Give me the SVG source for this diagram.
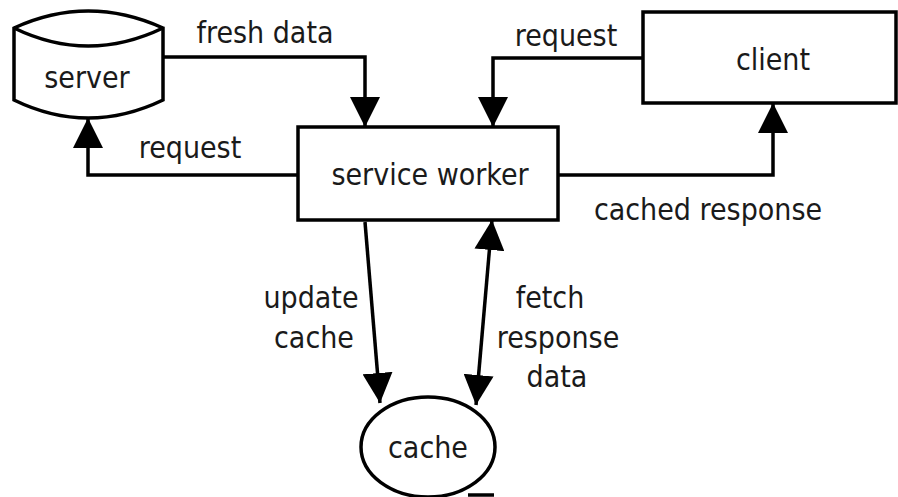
<svg xmlns="http://www.w3.org/2000/svg" width="898" height="497" viewBox="0 0 898 497">
<style>
.s{fill:none;stroke:#000;stroke-width:3.5}
.n{fill:#fff;stroke:#000;stroke-width:3.5}
text{font-family:"DejaVu Sans Condensed","DejaVu Sans",Verdana,sans-serif;font-stretch:condensed;font-size:30px;fill:#1a1a1a}
</style>
<defs>
<marker id="h" viewBox="0 0 30 30" refX="30" refY="15" markerWidth="30" markerHeight="30" markerUnits="userSpaceOnUse" orient="auto-start-reverse">
<path d="M0,0 L30,15 L0,30 z" fill="#000"/>
</marker>
</defs>
<g id="connectors">
<path class="s" d="M163,57 H365 V127" marker-end="url(#h)"/>
<path class="s" d="M643,58 H493 V127" marker-end="url(#h)"/>
<path class="s" d="M298,175 H88 V118" marker-end="url(#h)"/>
<path class="s" d="M558,175 H773 V103" marker-end="url(#h)"/>
<path class="s" d="M365,222 L380,403" marker-end="url(#h)"/>
<path class="s" d="M492,220 L476,405" marker-start="url(#h)" marker-end="url(#h)"/>
<text x="265" y="43" text-anchor="middle">fresh data</text>
<text x="566" y="46" text-anchor="middle">request</text>
<text x="190" y="158" text-anchor="middle">request</text>
<text x="708" y="220" text-anchor="middle">cached response</text>
<text x="311" y="308" text-anchor="middle">update</text>
<text x="314" y="348" text-anchor="middle">cache</text>
<text x="550" y="308" text-anchor="middle">fetch</text>
<text x="558" y="348" text-anchor="middle">response</text>
<text x="557" y="387" text-anchor="middle">data</text>
</g>
<g id="server">
<path class="n" d="M14,28 Q88,-6 163,28 V100 Q88,136 14,100 Z"/>
<path class="s" d="M14,28 Q88,64 163,28"/>
<text x="87" y="88" text-anchor="middle">server</text>
</g>
<g id="service-worker">
<rect class="n" x="298" y="127" width="260" height="93"/>
<text x="430" y="185" text-anchor="middle">service worker</text>
</g>
<g id="client">
<rect class="n" x="643" y="12" width="253" height="91"/>
<text x="773" y="70" text-anchor="middle">client</text>
</g>
<g id="cache">
<ellipse class="n" cx="428" cy="447" rx="67" ry="50"/>
<path class="s" d="M468,495 H494"/>
<text x="428" y="458" text-anchor="middle">cache</text>
</g>
</svg>
